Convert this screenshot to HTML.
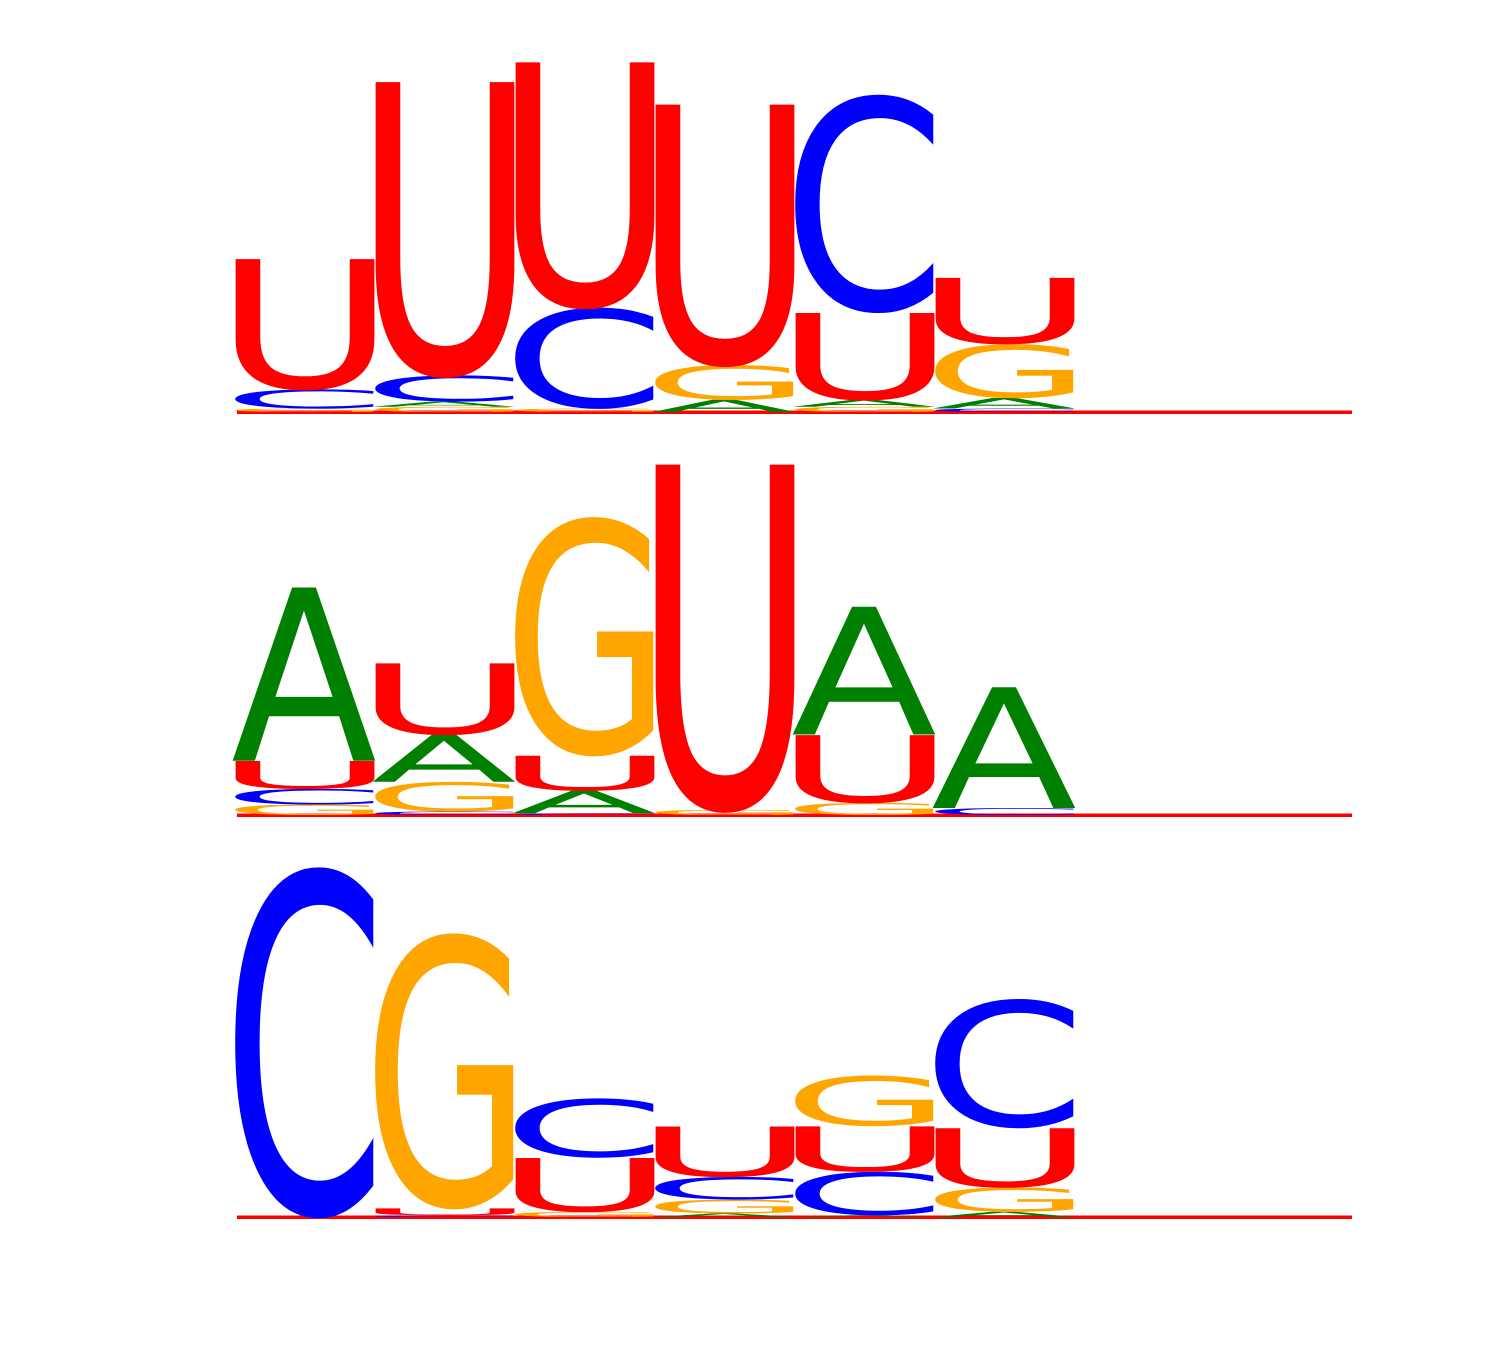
<!DOCTYPE html>
<html><head><meta charset="utf-8"><title>Sequence logo</title>
<style>
html,body{margin:0;padding:0;background:#fff;}
svg{display:block;}
</style></head>
<body>
<svg id="logo" width="1500" height="1350" viewBox="0 0 1500 1350" xmlns="http://www.w3.org/2000/svg"></svg>
<script>
// Letter stacks per column, bottom to top: [letter, bits]
const positions = [1, 2, 3, 4, 5, 6];
const row1Stacks = [
  [['G',0.02],['C',0.11],['U',0.75]],
  [['G',0.03],['A',0.03],['C',0.15],['U',1.69]],
  [['G',0.02],['C',0.58],['U',1.41]],
  [['A',0.07],['G',0.20],['U',1.50]],
  [['G',0.03],['A',0.04],['U',0.50],['C',1.25]],
  [['C',0.02],['A',0.06],['G',0.31],['U',0.38]]
];
const row2Stacks = [
  [['G',0.06],['C',0.09],['U',0.16],['A',0.99]],
  [['C',0.02],['G',0.17],['A',0.27],['U',0.41]],
  [['C',0.01],['A',0.13],['U',0.20],['G',1.37]],
  [['G',0.03],['U',1.99]],
  [['G',0.07],['U',0.39],['A',0.73]],
  [['C',0.04],['A',0.69]]
];
const row3Stacks = [
  [['C',2.01]],
  [['C',0.01],['U',0.04],['G',1.58]],
  [['G',0.03],['U',0.31],['C',0.34]],
  [['A',0.02],['G',0.08],['C',0.13],['U',0.29]],
  [['A',0.01],['C',0.25],['U',0.26],['G',0.29]],
  [['A',0.03],['G',0.14],['U',0.34],['C',0.74]]
];
const rows = [row1Stacks, row2Stacks, row3Stacks];
const rowNames = ['logo-row-1','logo-row-2','logo-row-3'];

const colors = {A:'#008000', C:'#0000ff', G:'#ffa500', U:'#ff0000'};
const glyph = {
  A:{len:146, dx:-4, cap:72.9, drop:0},
  C:{len:164, dx:-13, cap:75.8, drop:0.015},
  G:{len:168, dx:-12, cap:75.8, drop:0.015},
  U:{len:182, dx:-21, cap:74.3, drop:0.01}
};
const baselines = [412, 815, 1217];
const pxPerBit = 175;
const x0 = 235, colW = 140;
const xPos = p => x0 + (p - 1) * colW;
const yPix = v => v * pxPerBit;
const NS = 'http://www.w3.org/2000/svg';
const svg = document.getElementById('logo');

rows.forEach((stacks, r) => {
  const g = document.createElementNS(NS, 'g');
  
  
  svg.appendChild(g);
  const base = baselines[r];
  const line = document.createElementNS(NS, 'rect');
  line.setAttribute('x', 237); line.setAttribute('y', base - 1.5);
  line.setAttribute('width', 1115); line.setAttribute('height', 3.5);
  line.setAttribute('fill', '#ff0000');
  
  
  g.appendChild(line);
  stacks.forEach((stack, c) => {
    let cum = 0;
    const x = xPos(positions[c]);
    stack.forEach(([letter, val]) => {
      const h = yPix(val);
      const yb = base - cum;
      cum += h;
      if (h <= 0) return;
      const gp = glyph[letter];
      const t = document.createElementNS(NS, 'text');
      t.textContent = letter;
      t.setAttribute('x', 0); t.setAttribute('y', 0);
      t.setAttribute('font-size', 100);
      t.setAttribute('font-family', '"DejaVu Sans", "Liberation Sans", sans-serif');
      t.setAttribute('textLength', gp.len);
      t.setAttribute('lengthAdjust', 'spacingAndGlyphs');
      t.setAttribute('fill', colors[letter]);
      t.setAttribute('transform', `translate(${x + gp.dx},${yb - h * gp.drop}) scale(1,${h / gp.cap})`);
      
      
      g.appendChild(t);
    });
  });
});
</script>
</body></html>
